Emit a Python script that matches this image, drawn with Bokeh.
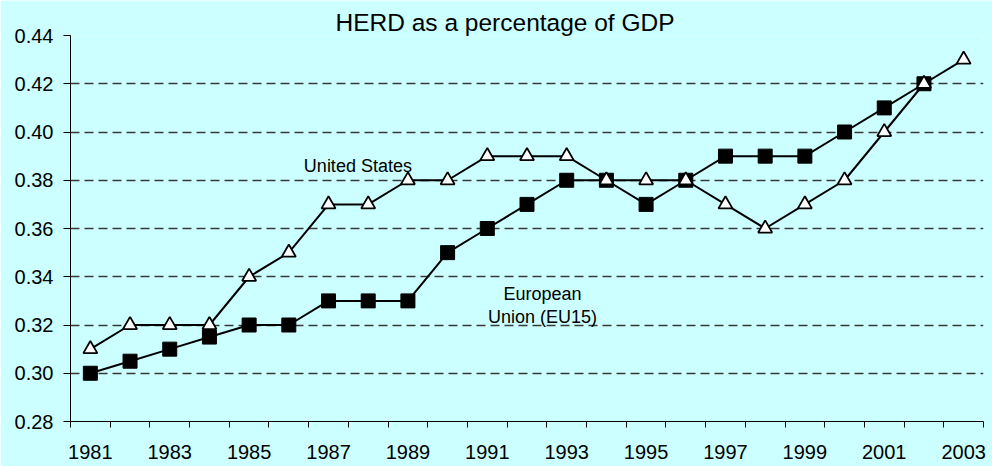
from bokeh.plotting import figure
from bokeh.models import FixedTicker, Range1d, NumeralTickFormatter, ColumnDataSource
from bokeh.core.properties import value
from bokeh.embed import file_html
from bokeh.resources import INLINE

# ---- data ----
us_years = list(range(1981, 2004))
us_values = [0.31, 0.32, 0.32, 0.32, 0.34, 0.35, 0.37, 0.37, 0.38, 0.38, 0.39, 0.39,
             0.39, 0.38, 0.38, 0.38, 0.37, 0.36, 0.37, 0.38, 0.40, 0.42, 0.43]
eu_years = list(range(1981, 2003))
eu_values = [0.300, 0.305, 0.310, 0.315, 0.320, 0.320, 0.330, 0.330, 0.330, 0.350, 0.360,
             0.370, 0.380, 0.380, 0.370, 0.380, 0.390, 0.390, 0.390, 0.400, 0.410, 0.420]
x_tick_labels = [1981, 1983, 1985, 1987, 1989, 1991, 1993, 1995, 1997, 1999, 2001, 2003]
x_category_edges = [1980.5 + i for i in range(24)]
y_ticks = [0.28, 0.30, 0.32, 0.34, 0.36, 0.38, 0.40, 0.42, 0.44]
title_text = "HERD as a percentage of GDP"
series_labels = ["United States", "European", "Union (EU15)"]
series_label_x = [1987.74, 1992.39, 1992.39]
series_label_y = [0.3861, 0.3330, 0.3234]

BG = "#CCFFFF"
FONT = "Liberation Sans"

p = figure(width=992, height=466, output_backend="svg", toolbar_location=None,
           x_range=Range1d(1980.5, 2003.5), y_range=Range1d(0.28, 0.44),
           title=title_text)
p.min_border_left = 70
p.min_border_right = 9
p.min_border_top = 35
p.min_border_bottom = 45
p.background_fill_color = BG
p.border_fill_color = BG
p.outline_line_color = None

p.title.text_font = FONT
p.title.text_font_size = "24.5px"
p.title.text_font_style = "normal"
p.title.text_color = "black"
p.title.align = "left"
p.title.offset = 265
p.title.standoff = 0

# axes
xa = p.xaxis[0]
xa.ticker = FixedTicker(ticks=x_tick_labels, minor_ticks=x_category_edges)
xa.major_tick_line_color = None
xa.major_tick_out = 0
xa.major_tick_in = 0
xa.minor_tick_line_color = "black"
xa.minor_tick_out = 6
xa.minor_tick_in = 0
xa.axis_line_color = "black"
xa.major_label_text_font = FONT
xa.major_label_text_font_size = "20px"
xa.major_label_text_color = "black"
xa.major_label_standoff = 17

ya = p.yaxis[0]
ya.ticker = FixedTicker(ticks=y_ticks)
ya.formatter = NumeralTickFormatter(format="0.00")
ya.major_tick_out = 7
ya.major_tick_in = 0
ya.minor_tick_line_color = None
ya.axis_line_color = "black"
ya.major_label_text_font = FONT
ya.major_label_text_font_size = "20px"
ya.major_label_text_color = "black"
ya.major_label_standoff = 10

p.xgrid.grid_line_color = None
p.ygrid.ticker = FixedTicker(ticks=y_ticks)
p.ygrid.grid_line_color = "#383838"
p.ygrid.grid_line_dash = "9 5"
p.ygrid.grid_line_width = 1.3

# series
p.line(eu_years, eu_values, line_color="black", line_width=2)
p.scatter(eu_years, eu_values, marker="square", size=14, fill_color="black", line_color="black")
p.line(us_years, us_values, line_color="black", line_width=2)
p.scatter(us_years, us_values, marker="triangle", size=14, fill_color="white",
          line_color="black", line_width=1.8)

# series labels
src = ColumnDataSource(dict(x=series_label_x, y=series_label_y, t=series_labels))
p.text(x="x", y="y", text="t", source=src, text_font=value(FONT), text_font_size="18px",
       text_align="center", text_baseline="middle", text_color="black")

open("out.html", "w").write(file_html(p, INLINE))
